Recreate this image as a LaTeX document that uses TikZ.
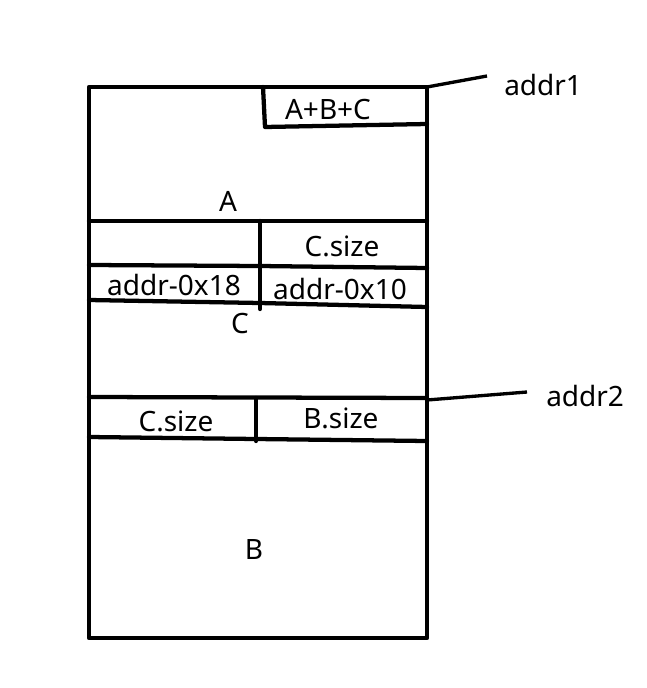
\documentclass[tikz,border=0pt]{standalone}
\usepackage{fontspec}
\setmainfont{Noto Sans}
\begin{document}
\begin{tikzpicture}[x=0.75pt,y=-0.75pt,
  wall/.style={line width=3.2pt,line cap=round,line join=round},
  lbl/.style={font=\fontsize{21}{24}\selectfont,inner sep=0pt}]
\useasboundingbox (0,0) rectangle (646,688);
% outer frame
\draw[wall] (89,87) rectangle (427,638);
% top small box
\draw[wall] (263,87) -- (265,127) -- (427,124);
\node[lbl] (abc) at (328,110) {A+B+C};
\coordinate (c1) at (427,87);
\node[lbl,anchor=west] (addr1) at (504,85) {addr1};
\draw[line width=2.5pt] (c1) -- (487,76);
% A region
\draw[wall] (89,221) -- (427,221);
\node[lbl] (A) at (228,201) {A};
% C header
\draw[wall] (260,221) -- (260,309);
\draw[wall] (89,265) -- (260,266) -- (427,268);
\draw[wall] (89,300) -- (260,303) -- (427,307);
\node[lbl] (csz1) at (342,246) {C.size};
\node[lbl] (a18) at (174,285) {addr-0x18};
\node[lbl] (a10) at (340,289) {addr-0x10};
\node[lbl] (C) at (240,324) {C};
% B header
\draw[wall] (89,397) -- (427,398);
\coordinate (c2) at (427,400);
\node[lbl,anchor=west] (addr2) at (546,396) {addr2};
\draw[line width=2.5pt] (c2) -- (527,392);
\draw[wall] (256,398) -- (256,441);
\draw[wall] (89,437) -- (256,439) -- (427,441);
\node[lbl] (csz2) at (176,421) {C.size};
\node[lbl] (bsz) at (341,418) {B.size};
\node[lbl] (B) at (254,549) {B};
\end{tikzpicture}
\end{document}
